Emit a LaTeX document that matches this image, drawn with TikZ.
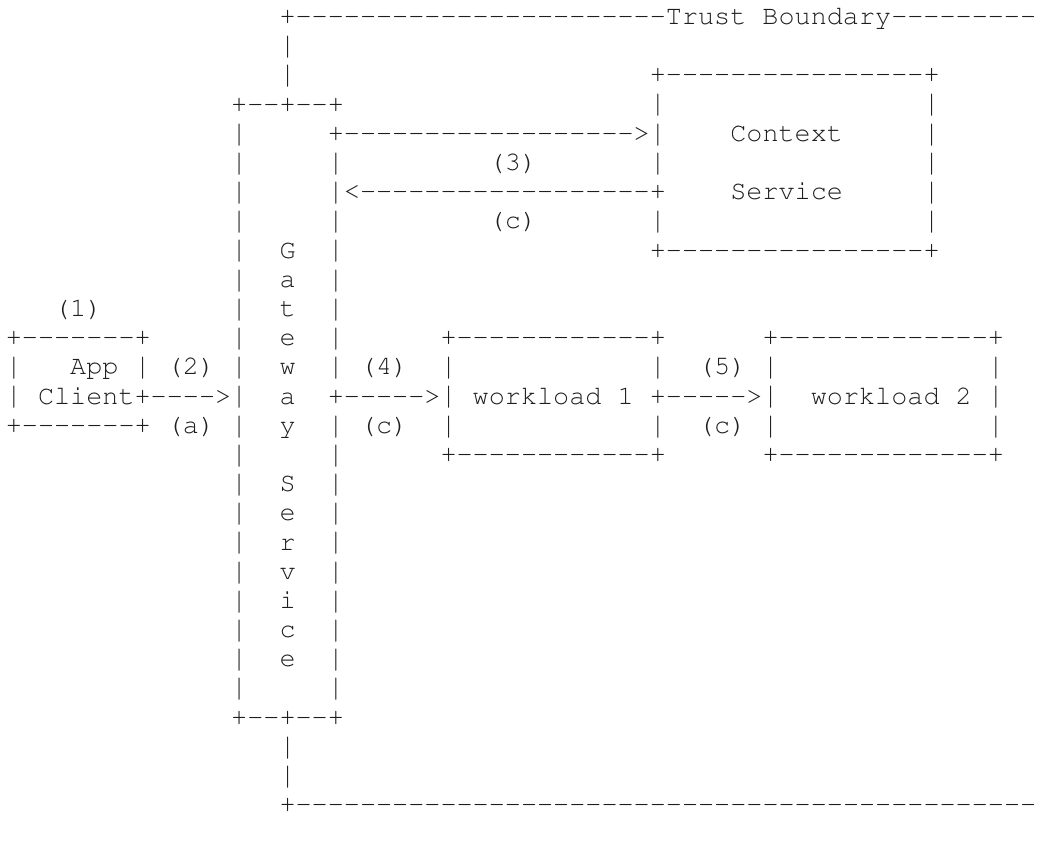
\documentclass[tikz,border=0pt]{standalone}
\usepackage[T1]{fontenc}
\usepackage{courier}
\usepackage{graphicx}
\usetikzlibrary{positioning}
\definecolor{ink}{HTML}{1E1E1E}
% one character cell: 12.075pt wide, lines 21.9pt apart
\newcommand\asciifont{\ttfamily\fontsize{20.125pt}{21.9pt}\selectfont}
% n hyphens, kept apart so that no dash ligature forms
\newcommand\dashes[1]{\foreach\k in {1,...,#1}{-{}}}
% a slightly taller bar, so that the columns of bars close up
\newcommand\vbar{\raisebox{-0.03em}{\scalebox{1}[1.14]{|}}}

\begin{document}
\begin{tikzpicture}[x=12.075pt,y=-21.9pt]
\tikzstyle{txt}=[anchor=base west,inner sep=0pt,outer sep=0pt,font=\asciifont,text=ink]
\useasboundingbox (-0.363,-0.84) rectangle (64.05,28.06);
  % trust boundary
  \node[txt] (trust-top) at (17,0) {+\dashes{23}Trust Boundary\dashes{9}};
  \node[txt] (trust-a) at (17,1) {\vbar};
  \node[txt] (trust-b) at (17,2) {\vbar};
  \node[txt] (trust-c) at (17,25) {\vbar};
  \node[txt] (trust-d) at (17,26) {\vbar};
  \node[txt] (trust-bot) at (17,27) {+\dashes{46}};
  % gateway service
  \node[txt] (gw-top) at (14,3) {+\dashes{2}+\dashes{2}+};
  \node[txt] (gw-bot) at (14,24) {+\dashes{2}+\dashes{2}+};
  \foreach \r in {4,...,23}
    \node[txt] (gw-l\r) at (14,\r) {\vbar};
  \foreach \r in {5,...,12}
    \node[txt] (gw-r\r) at (20,\r) {\vbar};
  \foreach \r in {14,...,23}
    \node[txt] (gw-r\r) at (20,\r) {\vbar};
  \foreach \ch [count=\i from 8] in {G,a,t,e,w,a,y}
    \node[txt] (gw\i) at (17,\i) {\ch};
  \foreach \ch [count=\i from 16] in {S,e,r,v,i,c,e}
    \node[txt] (gw\i) at (17,\i) {\ch};
  % context service
  \node[txt] (ctx-top) at (40,2) {+\dashes{16}+};
  \node[txt] (ctx-bot) at (40,8) {+\dashes{16}+};
  \foreach \r in {3,4,5,7}
    \node[txt] (ctx-l\r) at (40,\r) {\vbar};
  \foreach \r in {3,...,7}
    \node[txt] (ctx-r\r) at (57,\r) {\vbar};
  \node[txt] (ctx1) at (45,4) {Context};
  \node[txt] (ctx2) at (45,6) {Service};
  \node[txt] (req3) at (20,4) {+\dashes{18}>};
  \node[txt] (lbl3) at (30,5) {(3)};
  \node[txt] (resp3) at (21,6) {<\dashes{18}+};
  \node[txt] (lblc3) at (30,7) {(c)};
  % app client
  \node[txt] (lbl1) at (3,10) {(1)};
  \node[txt] (app-top) at (0,11) {+\dashes{7}+};
  \node[txt] (app-bot) at (0,14) {+\dashes{7}+};
  \node[txt] (app-l12) at (0,12) {\vbar};
  \node[txt] (app-l13) at (0,13) {\vbar};
  \node[txt] (app-r12) at (8,12) {\vbar};
  \node[txt] (app1) at (4,12) {App};
  \node[txt] (app2) at (2,13) {Client};
  \node[txt] (req2) at (8,13) {+\dashes{4}>};
  \node[txt] (lbl2) at (10,12) {(2)};
  \node[txt] (lbla) at (10,14) {(a)};
  % workloads
  \node[txt] (wl1-top) at (27,11) {+\dashes{12}+};
  \node[txt] (wl1-bot) at (27,15) {+\dashes{12}+};
  \node[txt] (wl1) at (29,13) {workload 1};
  \node[txt] (wl2-top) at (47,11) {+\dashes{13}+};
  \node[txt] (wl2-bot) at (47,15) {+\dashes{13}+};
  \node[txt] (wl2) at (50,13) {workload 2};
  \foreach \r in {12,13,14}{
    \node[txt] (wl1-l\r) at (27,\r) {\vbar};
    \node[txt] (wl2-l\r) at (47,\r) {\vbar};
    \node[txt] (wl2-r\r) at (61,\r) {\vbar};
  }
  \node[txt] (wl1-r12) at (40,12) {\vbar};
  \node[txt] (wl1-r14) at (40,14) {\vbar};
  \node[txt] (req4) at (20,13) {+\dashes{5}>};
  \node[txt] (lbl4) at (22,12) {(4)};
  \node[txt] (lblc4) at (22,14) {(c)};
  \node[txt] (req5) at (40,13) {+\dashes{5}>};
  \node[txt] (lbl5) at (43,12) {(5)};
  \node[txt] (lblc5) at (43,14) {(c)};
\end{tikzpicture}
\end{document}
